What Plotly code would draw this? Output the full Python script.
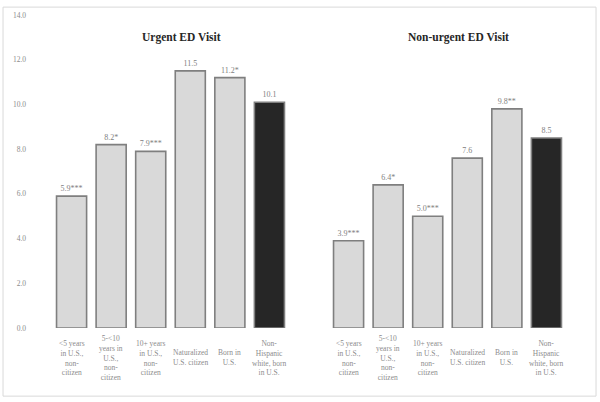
import plotly.graph_objects as go

categories = ["&lt;5 years<br>in U.S.,<br>non-<br>citizen",
              "5-&lt;10<br>years in<br>U.S.,<br>non-<br>citizen",
              "10+ years<br>in U.S.,<br>non-<br>citizen",
              "Naturalized<br>U.S. citizen",
              "Born in<br>U.S.",
              "Non-<br>Hispanic<br>white, born<br>in U.S."]
urgent = [5.9, 8.2, 7.9, 11.5, 11.2, 10.1]
urgent_sig = ["***", "*", "***", "", "*", ""]
nonurgent = [3.9, 6.4, 5.0, 7.6, 9.8, 8.5]
nonurgent_sig = ["***", "*", "***", "", "**", ""]
panel_titles = ["Urgent ED Visit", "Non-urgent ED Visit"]

FONT = "Liberation Serif"
fill = ["#d9d9d9"] * 5 + ["#262626"]

# slot positions: 6 bars, one empty slot, 6 bars
x_urgent = list(range(6))
x_nonurgent = [i + 7 for i in range(6)]

fig = go.Figure()
for xs, vals, sig in [(x_urgent, urgent, urgent_sig), (x_nonurgent, nonurgent, nonurgent_sig)]:
    fig.add_trace(go.Bar(
        x=xs, y=vals, width=0.76,
        marker=dict(color=fill, line=dict(color="#7f7f7f", width=1.6)),
        text=[f"{v:.1f}{s}" for v, s in zip(vals, sig)],
        textposition="outside", cliponaxis=False,
        textfont=dict(family=FONT, size=8, color="#7f7f7f"),
        showlegend=False))

# category labels under bars
for xs in (x_urgent, x_nonurgent):
    for xi, lab in zip(xs, categories):
        fig.add_annotation(x=xi, y=-0.0946, xref="x", yref="paper", text=lab,
                           showarrow=False, yanchor="middle", align="center",
                           font=dict(family=FONT, size=7.5, color="#8c8c8c"))

for xp, t in zip([0.269, 0.769], panel_titles):
    fig.add_annotation(x=xp, y=0.9274, xref="paper", yref="paper", text=f"<b>{t}</b>",
                       showarrow=False, xanchor="center", yanchor="middle",
                       font=dict(family=FONT, size=11.5, color="#262626"))

# outer border
fig.add_shape(type="rect", xref="paper", yref="paper", x0=-0.0523, x1=1.0181,
              y0=-0.2177, y1=1.0252, line=dict(color="#d9d9d9", width=1), layer="below")

fig.update_xaxes(range=[-1, 13], showticklabels=False, showgrid=False, zeroline=False,
                 showline=False, ticks="")
fig.update_yaxes(range=[0, 14], dtick=2, tickformat=".1f", showgrid=False, zeroline=False,
                 showline=False, ticks="", ticklabelstandoff=5,
                 tickfont=dict(family=FONT, size=7.5, color="#8c8c8c"))
fig.update_layout(width=600, height=402, margin=dict(l=32, r=14, t=11, b=74),
                  paper_bgcolor="white", plot_bgcolor="white")

fig.write_html("out.html", config={"displayModeBar": False},
               post_script="document.body.style.margin='0';")
